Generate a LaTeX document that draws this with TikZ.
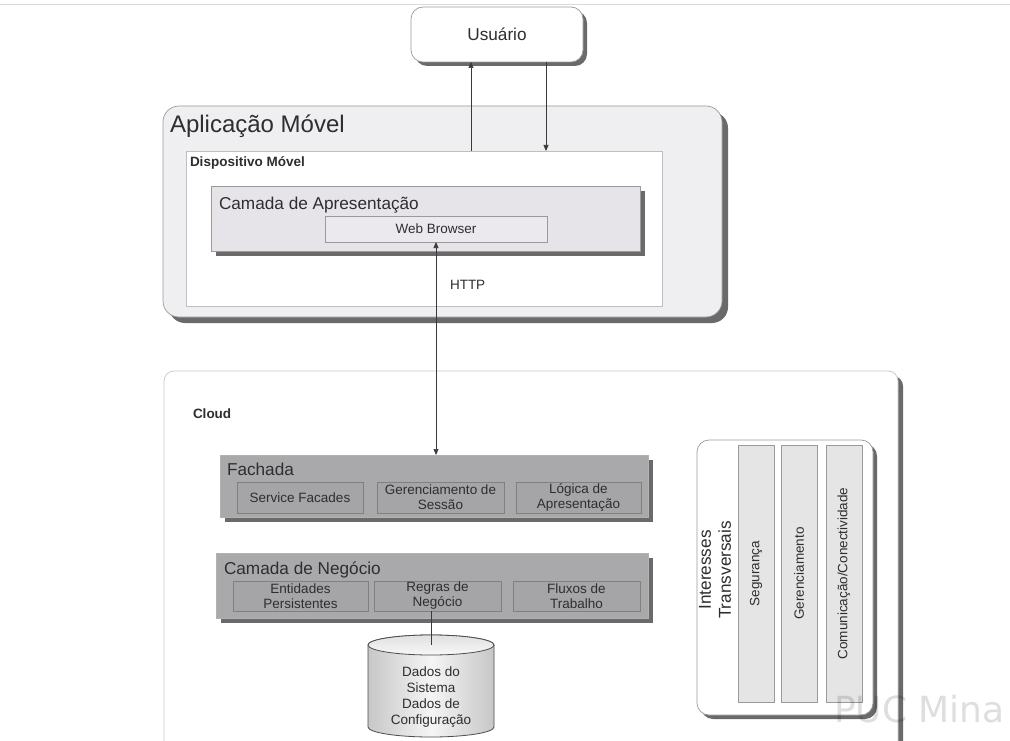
\documentclass[tikz,border=0pt]{standalone}
\usepackage{fontspec}
\setmainfont{Liberation Sans}
\newfontfamily\wmfont{DejaVu Sans}
\usetikzlibrary{shadows,arrows.meta}
\definecolor{txt}{HTML}{2E2E2E}
\definecolor{edge}{HTML}{9A9A9A}
\definecolor{apmfill}{HTML}{EFEEF1}
\definecolor{camfill}{HTML}{E6E4E9}
\definecolor{wbfill}{HTML}{EBE9EE}
\definecolor{fachfill}{HTML}{A9A9AB}
\definecolor{innerfill}{HTML}{A5A5A7}
\definecolor{innerdraw}{HTML}{808080}
\definecolor{barfill}{HTML}{E5E5E5}
\definecolor{shd}{HTML}{6A6A6A}
\definecolor{lineclr}{HTML}{3A3A3A}
\newcommand\fsz[2]{\fontsize{#1}{#2}\selectfont}
\begin{document}
\begin{tikzpicture}[x=1pt,y=-1pt,
  every node/.style={inner sep=0pt,outer sep=0pt,text=txt},
  plainbox/.style={draw=edge,line width=0.7pt,anchor=north west},
  shad/.style={drop shadow={shadow xshift=#1,shadow yshift=-#1,fill=shd,opacity=1}},
  conn/.style={draw=lineclr,line width=0.7pt},
  tip/.style={-{Triangle[length=6pt,width=5pt]}},
  small/.style={font=\fsz{13.5}{15}},
  smallb/.style={font=\bfseries\fsz{13.5}{15}},
  mid/.style={font=\fsz{17.2}{20}},
  inner/.style={plainbox,draw=innerdraw,fill=innerfill,minimum height=31pt,align=center,anchor=north west,small},
  bar/.style={plainbox,draw=edge,fill=barfill,minimum width=36pt,minimum height=257pt}
]
\clip (0,0) rectangle (1010,741);
\fill[white] (0,0) rectangle (1010,741);
\draw[draw=black!15,line width=1pt] (0,5) -- (1010,5);

% Usuario
\node[plainbox,fill=white,rounded corners=12pt,shad=4pt,minimum width=172pt,minimum height=55pt,font=\fsz{17.2}{20}] (usr) at (411,7) {Usuário};

% Aplicacao Movel
\node[plainbox,fill=apmfill,rounded corners=16pt,shad=6pt,minimum width=559pt,minimum height=211pt] (apm) at (163,106) {};
\node[anchor=base west,font=\fsz{24}{28}] (apmt) at (170,133) {Aplicação Móvel};
\node[plainbox,draw=black!25,fill=white,minimum width=476pt,minimum height=155pt] (dm) at (186,151) {};
\node[anchor=base west,smallb] (dmt) at (190,167) {Dispositivo Móvel};
\node[plainbox,fill=camfill,shad=5pt,minimum width=429pt,minimum height=65pt] (cam) at (211,186) {};
\node[anchor=base west,mid] (camt) at (219,209) {Camada de Apresentação};
\node[plainbox,fill=wbfill,minimum width=222pt,minimum height=26pt,small] (wb) at (325,216) {Web Browser};
\node[anchor=base west,small] (http) at (450,289) {HTTP};

% Cloud
\node[plainbox,draw=black!22,fill=white,rounded corners=10pt,shad=5pt,minimum width=734pt,minimum height=420pt] (cloud) at (164,371) {};
\node[anchor=base west,smallb] (cloudt) at (193,418) {Cloud};

% Fachada
\node[plainbox,draw=black!30,fill=fachfill,shad=5pt,minimum width=428pt,minimum height=62pt] (fach) at (220,455) {};
\node[anchor=base west,mid] (facht) at (227,475) {Fachada};
\node[inner,minimum width=126pt] (sf) at (237,482) {Service Facades};
\node[inner,minimum width=127pt] (gs) at (377,482) {Gerenciamento de\\Sessão};
\node[inner,minimum width=125pt] (la) at (516,482) {Lógica de\\Apresentação};

% Camada de Negocio
\node[plainbox,draw=black!30,fill=fachfill,shad=5pt,minimum width=432pt,minimum height=65pt] (neg) at (216,553) {};
\node[anchor=base west,mid] (negt) at (224,574) {Camada de Negócio};
\node[inner,minimum width=135pt,minimum height=30pt] (ep) at (233,581) {Entidades\\Persistentes};
\node[inner,minimum width=127pt,minimum height=30pt] (rn) at (374,581) {Regras de\\Negócio};
\node[inner,minimum width=127pt,minimum height=30pt] (ft) at (513,581) {Fluxos de\\Trabalho};

% Cylinder
\node[anchor=north west,minimum width=126pt,minimum height=102pt] (cyl) at (368,635) {};
\path[draw=black!70,line width=0.8pt,left color=black!22,right color=black!22,middle color=black!4]
  (368,645) -- (368,727) arc[start angle=180,end angle=360,x radius=63pt,y radius=10pt]
  -- (494,645) arc[start angle=0,end angle=180,x radius=63pt,y radius=10pt] -- cycle;
\path[draw=black!70,line width=0.8pt,top color=black!12,bottom color=black!3] (431,645) ellipse[x radius=63pt,y radius=10pt];
\node[align=center,font=\fsz{13.5}{15.7}] (cylt) at (431,697) {Dados do\\Sistema\\Dados de\\Configuração};
\coordinate (cyltop) at ([yshift=-10pt]cyl.north);
\draw[conn] (rn.south -| cyltop) -- (cyltop);

% Interesses Transversais
\node[plainbox,fill=white,rounded corners=12pt,shad=4pt,minimum width=176pt,minimum height=275pt] (it) at (697,440) {};
\node[rotate=90,align=center,font=\fsz{17.2}{20}] (itt) at (715,570) {Interesses\\Transversais};
\node[bar] (seg) at (738,445) {};
\node[bar] (ger) at (781,445) {};
\node[bar] (com) at (826,445) {};
\node[rotate=90,small] at (seg.center) {Segurança};
\node[rotate=90,small] at (ger.center) {Gerenciamento};
\node[rotate=90,small] at (com.center) {Comunicação/Conectividade};

% Connectors
\coordinate (u1) at ([xshift=-26pt]usr.south);
\coordinate (u2) at ([xshift=49pt]usr.south);
\draw[conn,tip] (u1 |- dm.north) -- (u1);
\draw[conn,tip] (u2) -- (u2 |- dm.north);
\draw[conn,{Triangle[length=6pt,width=5pt]}-{Triangle[length=6pt,width=5pt]}] (wb.south) -- (wb.south |- fach.north);

% watermark
\node[anchor=base west,text=black,opacity=0.13,font=\wmfont\fsz{36}{40}] (wm) at (834,722) {PUC Mina};
\end{tikzpicture}
\end{document}
